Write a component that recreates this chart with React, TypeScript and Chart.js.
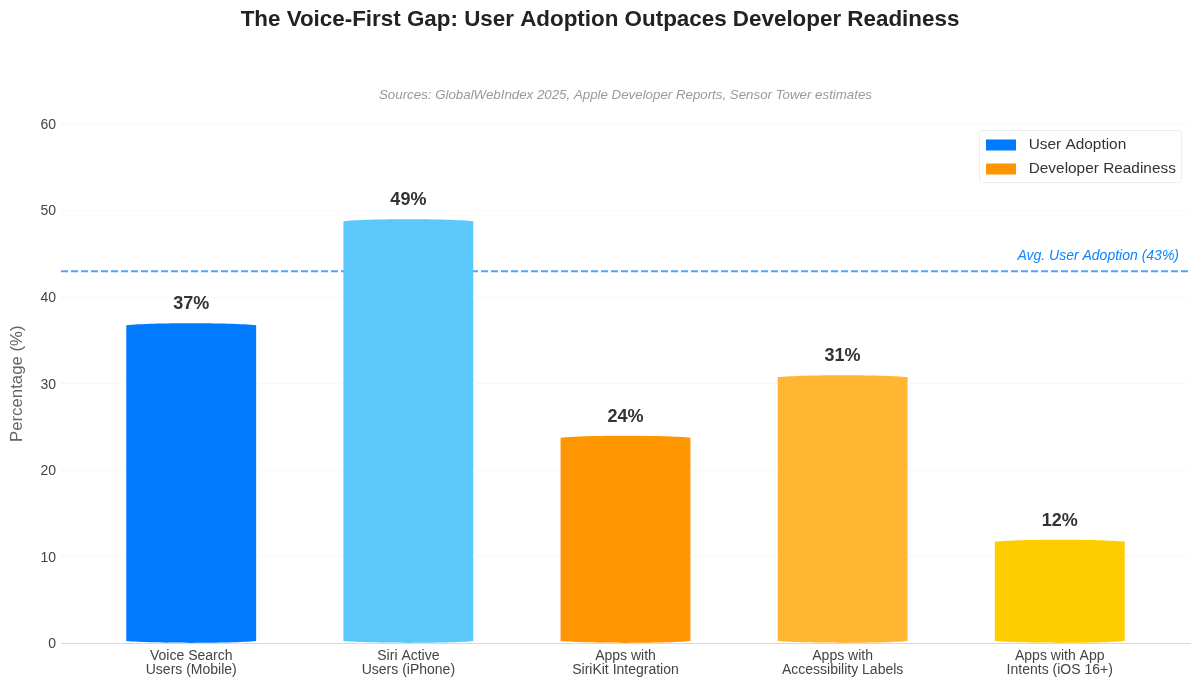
import React, { useEffect, useRef } from "react";
import Chart from "chart.js/auto";

const categories = [
  ["Voice Search", "Users (Mobile)"],
  ["Siri Active", "Users (iPhone)"],
  ["Apps with", "SiriKit Integration"],
  ["Apps with", "Accessibility Labels"],
  ["Apps with App", "Intents (iOS 16+)"],
];
const values = [37, 49, 24, 31, 12];
const barColors = ["#007AFF", "#5AC8FA", "#FF9500", "#FFB733", "#FFCC00"];
const avgAdoption = 43;
const legendNames = ["User Adoption", "Developer Readiness"];
const legendColors = ["#007AFF", "#FF9500"];

const FONT = "'Liberation Sans', Arial, sans-serif";

// bars in the original have a slightly bowed top and bottom edge
const barShape = {
  id: "barShape",
  beforeDatasetDraw(chart: any, args: any) {
    if (args.index !== 0) return;
    const ctx = chart.ctx;
    ctx.save();
    ctx.beginPath();
    args.meta.data.forEach((bar: any) => {
      const l = bar.x - bar.width / 2;
      const r = bar.x + bar.width / 2;
      const t = bar.y;
      const b = bar.base;
      const d = 2;
      ctx.moveTo(l, t + d);
      ctx.bezierCurveTo(l + bar.width * 0.2, t - 0.5, r - bar.width * 0.2, t - 0.5, r, t + d);
      ctx.lineTo(r, b - d);
      ctx.bezierCurveTo(r - bar.width * 0.2, b + 0.5, l + bar.width * 0.2, b + 0.5, l, b - d);
      ctx.closePath();
    });
    ctx.clip();
  },
  afterDatasetDraw(chart: any, args: any) {
    if (args.index === 0) chart.ctx.restore();
  },
};

const annotations = {
  id: "annotations",
  afterLayout(chart: any) {
    // legend sits in the top right corner of the plot
    const { legend, chartArea, titleBlock } = chart;
    legend.left = chartArea.right - 212;
    legend.top = chartArea.top + 7.5;
    legend.right = legend.left + legend.width;
    legend.bottom = legend.top + legend.height;
    // title is centred on the whole canvas, not on the padded area
    titleBlock.right += 10;
  },
  // legend is already drawn here, its white swatch stroke would hide the frame otherwise
  beforeDatasetsDraw(chart: any) {
    const ctx = chart.ctx;
    const { chartArea } = chart;
    ctx.save();
    ctx.strokeStyle = "#EEEEEE";
    ctx.lineWidth = 1;
    ctx.beginPath();
    ctx.roundRect(chartArea.right - 210.5, chartArea.top + 6.5, 202, 52, 3);
    ctx.stroke();
    ctx.restore();
  },
  afterDatasetsDraw(chart: any) {
    const ctx = chart.ctx;
    const { chartArea, scales } = chart;
    ctx.save();
    ctx.textAlign = "center";
    ctx.textBaseline = "middle";
    ctx.fillStyle = "#333333";
    ctx.font = `bold 18px ${FONT}`;
    chart.getDatasetMeta(0).data.forEach((bar: any, i: number) => {
      ctx.fillText(`${values[i]}%`, bar.x, bar.y - 19);
    });

    ctx.fillStyle = "#999999";
    ctx.font = `italic 13.3px ${FONT}`;
    ctx.fillText(
      "Sources: GlobalWebIndex 2025, Apple Developer Reports, Sensor Tower estimates",
      (chartArea.left + chartArea.right) / 2,
      95
    );

    ctx.textAlign = "right";
    ctx.fillStyle = "#0A84FF";
    ctx.font = `italic 14px ${FONT}`;
    ctx.fillText(`Avg. User Adoption (${avgAdoption}%)`, chartArea.right - 11, scales.y.getPixelForValue(avgAdoption) - 15);
    ctx.restore();
  },
};

export default function App() {
  const canvasRef = useRef<HTMLCanvasElement>(null);

  useEffect(() => {
    document.body.style.margin = "0";
    const chart = new Chart(canvasRef.current as HTMLCanvasElement, {
      type: "bar",
      data: {
        datasets: [
          {
            type: "bar",
            data: values.map((v, i) => ({ x: i, y: v })),
            backgroundColor: barColors,
            barThickness: 130,
            borderWidth: 0,
            order: 1,
          },
          {
            type: "line",
            data: [
              { x: -0.6, y: avgAdoption },
              { x: 4.6, y: avgAdoption },
            ],
            borderColor: "rgba(0,122,255,0.7)",
            borderWidth: 2,
            borderDash: [7, 3],
            pointRadius: 0,
            order: 2,
          },
        ],
      },
      options: {
        responsive: false,
        animation: false,
        devicePixelRatio: 1,
        layout: { padding: { left: 0, right: 10, top: 0, bottom: 0 } },
        plugins: {
          tooltip: { enabled: false },
          title: {
            display: true,
            text: "The Voice-First Gap: User Adoption Outpaces Developer Readiness",
            color: "#222222",
            font: { family: FONT, size: 22.4, weight: "bold" },
            padding: { top: 6.5, bottom: 90.6 },
          },
          legend: {
            display: true,
            position: "chartArea",
            align: "start",
            labels: {
              boxWidth: 40,
              boxHeight: 21,
              padding: 3,
              color: "#333333",
              font: { family: FONT, size: 15.4 },
              // white stroke trims the swatch down to the size in the original
              generateLabels: () =>
                legendNames.map((name, i) => ({
                  text: name,
                  fillStyle: legendColors[i],
                  strokeStyle: "#FFFFFF",
                  lineWidth: 10,
                  fontColor: "#333333",
                  datasetIndex: 0,
                })),
            },
          },
        },
        scales: {
          x: {
            type: "linear",
            offset: false,
            min: -0.6,
            max: 4.6,
            grid: { display: false, drawTicks: false },
            border: { display: true, color: "#D9D9D9", width: 1 },
            afterBuildTicks: (scale: any) => {
              scale.ticks = categories.map((_, i) => ({ value: i }));
            },
            afterFit: (scale: any) => {
              scale.height = 42.5;
            },
            ticks: {
              autoSkip: false,
              maxRotation: 0,
              padding: 6,
              color: "#444444",
              font: { family: FONT, size: 14, lineHeight: 1 },
              callback: (v: any) => categories[v],
            },
          },
          y: {
            min: 0,
            max: 60,
            grid: { color: "#F3F3F3", drawTicks: false, tickLength: 0 },
            border: { display: false, dash: [4, 4] },
            afterFit: (scale: any) => {
              scale.width = 61;
            },
            title: {
              display: true,
              text: "Percentage (%)",
              color: "#666666",
              font: { family: FONT, size: 16.8 },
              padding: { top: 7, bottom: 0 },
            },
            ticks: {
              stepSize: 10,
              padding: 5,
              labelOffset: 1,
              color: "#444444",
              font: { family: FONT, size: 14 },
            },
          },
        },
      },
      plugins: [barShape, annotations],
    } as any);
    return () => chart.destroy();
  }, []);

  return <canvas ref={canvasRef} width={1200} height={686} style={{ display: "block" }} />;
}
